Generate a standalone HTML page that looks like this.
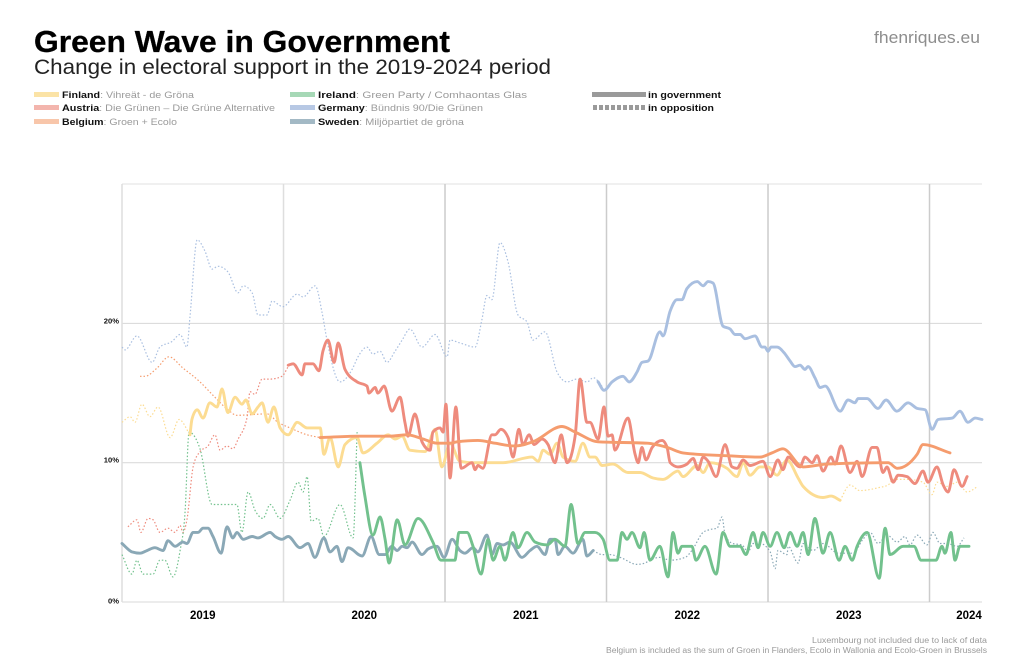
<!DOCTYPE html>
<html lang="en">
<head>
<meta charset="utf-8">
<title>Green Wave in Government</title>
<style>
html,body{margin:0;padding:0;background:#fff;width:1024px;height:664px;overflow:hidden}
svg{display:block;font-family:"Liberation Sans",sans-serif}
.n{font-weight:700;fill:#111}
.d{fill:#9a9a9a}
</style>
</head>
<body>
<svg id="chart" width="1024" height="664" viewBox="0 0 1024 664">
  <text x="34" y="52" font-size="31" font-weight="700" fill="#000" stroke="#000" stroke-width="0.3" textLength="416" lengthAdjust="spacingAndGlyphs">Green Wave in Government</text>
  <text x="34" y="74" font-size="21" fill="#222" textLength="517" lengthAdjust="spacingAndGlyphs">Change in electoral support in the 2019-2024 period</text>
  <text x="980" y="43" text-anchor="end" font-size="16.5" fill="#8d8d8d" textLength="106" lengthAdjust="spacingAndGlyphs">fhenriques.eu</text>

  <rect x="34" y="92" width="25" height="5" fill="#fbe3a6"/>
  <text x="62" y="98" font-size="9.5" textLength="132" lengthAdjust="spacingAndGlyphs"><tspan class="n">Finland</tspan><tspan class="d">: Vihreät - de Gröna</tspan></text>
  <rect x="34" y="105" width="25" height="5" fill="#f3b5ad"/>
  <text x="62" y="111" font-size="9.5" textLength="213" lengthAdjust="spacingAndGlyphs"><tspan class="n">Austria</tspan><tspan class="d">: Die Grünen – Die Grüne Alternative</tspan></text>
  <rect x="34" y="119" width="25" height="5" fill="#f8c6aa"/>
  <text x="62" y="125" font-size="9.5" textLength="115" lengthAdjust="spacingAndGlyphs"><tspan class="n">Belgium</tspan><tspan class="d">: Groen + Ecolo</tspan></text>

  <rect x="290" y="92" width="25" height="5" fill="#a6d8b6"/>
  <text x="318" y="98" font-size="9.5" textLength="209" lengthAdjust="spacingAndGlyphs"><tspan class="n">Ireland</tspan><tspan class="d">: Green Party / Comhaontas Glas</tspan></text>
  <rect x="290" y="105" width="25" height="5" fill="#b7c8e4"/>
  <text x="318" y="111" font-size="9.5" textLength="165" lengthAdjust="spacingAndGlyphs"><tspan class="n">Germany</tspan><tspan class="d">: Bündnis 90/Die Grünen</tspan></text>
  <rect x="290" y="119" width="25" height="5" fill="#a3b9c5"/>
  <text x="318" y="125" font-size="9.5" textLength="146" lengthAdjust="spacingAndGlyphs"><tspan class="n">Sweden</tspan><tspan class="d">: Miljöpartiet de gröna</tspan></text>

  <rect x="592" y="92" width="54" height="5" fill="#9a9a9a"/>
  <text x="648" y="98" font-size="9.5" font-weight="700" fill="#111" textLength="73" lengthAdjust="spacingAndGlyphs">in government</text>
  <line x1="593" y1="107.5" x2="646" y2="107.5" stroke="#9a9a9a" stroke-width="5" stroke-dasharray="4 2"/>
  <text x="648" y="111" font-size="9.5" font-weight="700" fill="#111" textLength="66" lengthAdjust="spacingAndGlyphs">in opposition</text>

  <g id="grid"></g>
  <g id="series"></g>
  <g id="axes"></g>

  <text x="987" y="643" text-anchor="end" font-size="8" fill="#9a9a9a" textLength="175" lengthAdjust="spacingAndGlyphs">Luxembourg not included due to lack of data</text>
  <text x="987" y="653" text-anchor="end" font-size="8" fill="#9a9a9a" textLength="381" lengthAdjust="spacingAndGlyphs">Belgium is included as the sum of Groen in Flanders, Ecolo in Wallonia and Ecolo-Groen in Brussels</text>
</svg>
<script>
// Time is in weeks since January 2019; values are electoral support in percent.
const yearLabels = ['2019','2020','2021','2022','2023','2024'];
const yearStartWeeks = [0,52,104,156,208,260];
const shareTicks = [0,10,20];
const shareTickLabels = ['0%','10%','20%'];

const finlandOppAWeeks = [0,2.6,4.2,6.4,9,11.6,15.5,18.4,21.9];
const finlandOppAShare = [12.9,13.3,12.9,14.2,13.3,14,11.8,13.1,12];
const finlandGovWeeks = [21.9,22.5,24.2,26.1,28.3,30.6,32.2,34.1,36.4,38.6,39.9,41.9,43.8,45.1,47,48.9,50.9,53.5,56.4,59.6,63.8,65,67,69.6,71.8,75.7,77.6,82.1,85.7,87.9,90.2,92.7,97.6,100.8,103,105.6,108.8,113,122.7,132,134,135.6,137.8,140.1,142,145.9,148.4,150.7,152.3,154.6,158.1,162.9,166.8,171,174.2,179,180.6,185.2,187.1,189.3,194.8,198,200,202.2,205.4,208,210.9,214.1,217.7,219.3,225.7,228.3,231.2];
const finlandGovShare = [12,13.1,13.8,13.2,14.3,14,15.3,13.6,14.7,14.2,14.5,13.5,14,14.3,12.9,14,12.5,12,12.9,12.5,12.5,10.6,11.8,9.7,11.3,11.8,10.7,11.4,12,11.7,11.9,10.9,10.8,12.4,9.7,11.4,10.1,10,10,10.4,10.1,10.9,10.6,11.4,10.4,10.1,11.4,10.4,10.4,9.8,9.9,9.3,9.3,8.9,8.8,9.4,9,9.8,9.3,10,9.6,9,10,9.1,9.7,9.7,9.1,10.2,8.9,8.3,7.5,7.6,7.3];
const finlandOppBWeeks = [231.2,234.4,237.6,243.4,246.7,248.3,252.8,257.9,260.8,262.4,265.7,268.9,272.1,275.6];
const finlandOppBShare = [7.3,8.4,8,8.2,8.4,8.8,8.8,8.6,7.7,8.6,8.3,8.6,7.9,8.3];

const austriaOppWeeks = [1.9,4.8,6.1,8.4,10,12.2,14.8,17.1,18.7,19.6,20.9,22.9,25.1,27.7,29.9,31.6,33.8,35.7,37.4,40.3,41.2,42.8,45.1,47.7,51.5,53.5];
const austriaOppShare = [5.4,5.9,5,6,5.9,5,5.3,5,5.5,5,5.9,9.7,10.8,11.2,12,10.9,11.2,11,11.7,13.3,15.1,14.9,16,16,16.2,16.9];
const austriaGovWeeks = [53.5,55.1,58,58.9,61.5,63.4,64.7,66.3,68.3,69.6,71.8,75.7,78.9,79.5,81.5,82.4,84.4,86.9,89.5,91.1,92.1,94.3,96.6,99.2,100.1,102.4,103.4,104.3,105.6,107.5,109.2,112.7,113.7,114.6,116.2,119.1,120.1,122,124.3,125.9,127.8,129.1,131.1,132.7,135.2,137.2,139.4,141.4,143.3,145.9,147.5,149.7,150.7,153.3,155.2,156.5,157.8,158.7,162.9,165.2,166.2,167.4,168.7,170.7,173.9,175.5,176.5,179,181.9,183.9,185.5,187.1,188.7,191.3,194.2,196.4,198,200,202.2,206.4,208.7,211.2,212.8,214.5,218.3,219.9,222.2,223.8,225.7,228.3,229.6,231.5,234.4,236.7,238.3,241.5,243.1,245,246.3,248.3,249.9,252.8,255.3,257.9,259.5,262.4,264.4,266,267.9,270.5,272.1];
const austriaGovShare = [17,17.1,16.3,17.1,17.1,16.6,18,18.8,17.2,18.6,16.7,15.8,15.5,15,15.4,15,15.5,13.7,14.7,12.9,11.9,13.5,11.5,10.9,12.2,12.5,12.2,14.2,8.9,14,9.6,10,9.5,9.8,9.6,12,12,12.4,11.8,10.4,12.4,11.3,12,11.3,11.7,11.3,10,12,10,11.9,16,12.9,12.9,11.7,14,11.9,12,10.9,13.2,10.6,10,11.1,10.2,11.1,11.6,11.1,10,9.7,9.9,10.3,9.5,10.4,10.1,9,11.3,9.7,9.6,10.2,9.8,10.1,9,10.2,9.5,10.4,9.7,10.4,10,10.5,9.4,10.4,9.9,11.2,9.3,10.1,9,11.1,11.1,9.3,9.7,8.6,9.1,9,8.5,9.4,8.6,9.7,8.4,7.9,9.5,8.3,9];

const belgiumOppWeeks = [5.8,7.4,11.3,15.1,19.6,25.1,29.9,34.1,37,46.7,50.2,54.1,59.6,63.8];
const belgiumOppShare = [16.2,16.2,16.8,17.6,16.8,15.8,14.7,13.8,13.4,13.5,12.9,12.5,12,11.8];
const belgiumGovWeeks = [63.8,75.7,86.3,91.8,96.9,101.4,105.6,107.9,114.6,120.1,126.5,132.3,141.7,145.9,153.3,169.1,175.5,180.6,194.8,205.4,209.3,212.8,219.3,227,246.7,249.6,256,257.9,266.6];
const belgiumGovShare = [11.8,11.9,11.9,12,11.7,11.4,11.4,11.5,11.6,11.4,11.2,11.5,12.6,12.2,11.5,11.4,11.1,10.7,10.5,10.4,10.7,11,9.7,9.9,10,9.6,10.6,11.3,10.7];

const irelandOppWeeks = [0,3.2,4.8,6.8,10,12.2,13.8,16.4,18.7,20.3,21.6,25.1,29,37,38.6,40.6,42.8,45.4,47.7,50.9,54.1,56.7,58.3,59.6,60.9,63.1,65,70.2,74.4,75.7];
const irelandOppShare = [3.4,2,3,2,2,3,3,1.8,3.7,6.4,12.2,11,7,7,5,7.9,6.6,6,7,6,7.3,8.6,7.9,9,5.8,6,4.7,7,4.6,12.2];
const irelandGovWeeks = [76.6,78.2,80.8,83.1,84.7,86,88.6,91.1,95.3,100.1,102.7,107.2,108.5,111.1,113,115.6,117.9,119.5,121.7,123.3,125.9,127.5,130.4,133,136.9,139.4,142.6,144.6,146.8,149.1,152.3,154.9,157.1,159.4,161,162.6,164.2,166.8,168.1,170,173.2,175.8,177.4,179,180.3,183.5,184.8,187.7,191.3,193.5,195.8,199,200.9,203.2,204.8,206.4,208.7,210.9,213.2,215.1,217.4,219.3,220.9,223.1,225.7,228,230.9,232.8,235.1,236.7,239.9,243.8,245.7,247.3,251.5,255,257.3,262.1,264,265,266.9,268.2,269.8,272.7];
const irelandGovShare = [10,7.6,4.8,6.1,4.5,2.8,5.9,4.1,6,4.3,3,3,5,5,4,2,4.5,3,4,3,5,3.9,5,4.3,4.1,4.5,4,7,4.2,5,5,4.5,3,3,5,4.5,5,3.9,5,3,4,1.8,5,3.5,4,4,3,4,2,5,4,4,3.4,5,3.9,5,4,5,3.9,5,4,5,3.4,6,3.5,5,3,4,3,4,5,1.7,5.3,3.4,4,4,3,3,4,3.5,5,3,4,4];

const germanyOppWeeks = [0,1,4.8,9.7,12.2,16.1,18.7,20.9,21.9,24.2,26.7,29,30.9,34.1,37.4,39,41.9,43.8,46.7,48.3,51.8,56.4,58.3,62.2,64.4,66,70.2,74.1,76,78.9,80.8,83.1,85.3,87.9,90.2,92.7,96.6,100.8,104.7,105.6,108.8,113.7,115.9,117.5,119.1,121.7,124.3,127.5,130.4,132.3,136.2,140.1,143.3,146.5,149.8,151.7,154.9];
const germanyOppShare = [18.3,18.1,19.1,17.2,18.3,18.7,19.2,18.3,20.5,26,25.2,23.9,24.1,23.7,22.2,22.7,22.2,20.6,20.6,21.6,21.2,22.1,21.9,22.7,20.8,18.8,15.8,16.7,17.6,18.3,17.8,18,17.2,18,18.8,19.6,18.3,19.2,17.6,18.8,18.6,18.3,20.3,22,21.7,25.8,24.4,20.6,20.1,18.8,19.4,16.5,15.8,16,15.8,16.1,15.4];
const germanyGovWeeks = [153.3,155.2,157.8,161.3,163.3,165.8,167.4,169.4,173.2,174.2,176.5,178.7,180.3,181.9,185.2,187.1,188.7,190.3,193.5,195.8,197.4,199,200.6,203.8,206.1,207,208,209,210.9,213.5,215.1,216.7,218.3,219.9,220.9,223.1,224.8,226.4,231.2,233.8,236,237,239.9,243.4,246,249.5,253.1,256,258.6,260.8,262.8,267.3,269.8,272.4,274.7,276.9];
const germanyGovShare = [15.8,15.2,15.8,16.2,15.8,16.5,17.2,17.3,19.4,19.1,20.9,21.7,21.7,22.5,23,22.7,23,22.9,19.8,19.6,19.2,19.2,18.9,19.1,18.3,18.3,18,18.3,18.3,17.8,17.3,16.9,17,16.7,16.9,16.1,15.4,15.5,13.7,14.5,14.3,14.6,14.6,13.9,14.5,13.7,14.3,13.9,13.8,12.4,13.1,13.2,13.7,12.9,13.2,13.1];

const swedenGovWeeks = [0,3.2,5.8,8.1,10.6,13.2,14.8,17.1,19.6,20.9,22.9,24.5,26.1,27.7,29.3,31.9,33.8,35.7,37,39,41.9,43.8,47.7,49.3,51.5,53.5,57.3,59.9,62.1,65,67,69.2,70.8,72.8,77.3,80.2,82.8,84.7,86.9,88.6,90.2,91.8,93.4,96.6,98.5,101.4,103.7,106.3,108.8,110.4,113,114.6,117.5,119.1,120.8,122.7,124.9,128.8,131.4,133.6,136.2,137.8,139.4,140.4,142.6,145.2,148.4,149.7,151.7];
const swedenGovShare = [4.2,3.6,3.5,3.7,3.9,3.7,4.4,4,4.3,4.2,5,5,5.3,5.3,4.7,3.5,5.4,4.6,5,4.5,4.7,4.6,5,4.7,4.5,4.7,3.9,4.2,3.2,4.6,3.6,4,2.9,3.9,3.3,4.7,3.4,3.4,4,3.7,4,3.9,4.3,3.4,3.8,4,3.2,4.5,3.7,3.5,3.9,3.6,4.8,3.4,4.2,4.1,4.3,3.2,3.7,4,3.4,4.5,4.5,3.4,4,3.5,4.5,3.3,3.7];
const swedenOppWeeks = [151.7,154.6,157.1,160.4,165.8,168.4,170,173.2,176.5,181.3,183.5,187.1,189.3,191.6,193.2,194.2,196.7,199.6,201.6,203.2,205.4,208.7,210.3,211.2,214.1,214.5,217.7,219.3,222.5,225.7,230.6,235.4,238.6,240.9,243.4,246.3,249.6,252.1,253.7,256,259.2,261.1,263.4,265.7,268.9,271.1];
const swedenOppShare = [3.7,3.4,3.4,3.2,2.7,2.8,3,3.2,3,3.2,3.7,5,5.2,5.3,6.1,4.8,4.2,4.1,3.6,4.2,4.2,3.6,2.4,3.7,3.4,4,2.8,4.2,3.7,4.2,3.5,3.5,4.5,5,4.2,4.8,4.3,4.7,4.1,4.8,4.1,5,4.2,4.2,4,4.6];

const NS = 'http://www.w3.org/2000/svg';
const plot = {left:122, right:982, top:184, bottom:602};
const weekSpan = 276.9;
const sharePerPx = 13.93;
function xScale(w){ return plot.left + w * (plot.right - plot.left) / weekSpan; }
function yScale(v){ return plot.bottom - v * sharePerPx; }

function monotonePath(weeks, share){
  const xs = weeks.map(xScale), ys = share.map(yScale), n = xs.length;
  const sl = [], m = new Array(n);
  for (let i = 0; i < n - 1; i++) sl.push((ys[i+1]-ys[i]) / ((xs[i+1]-xs[i]) || 1));
  m[0] = sl[0]; m[n-1] = sl[n-2];
  for (let i = 1; i < n - 1; i++){
    if (sl[i-1]*sl[i] <= 0) { m[i] = 0; continue; }
    const h0 = xs[i]-xs[i-1], h1 = xs[i+1]-xs[i];
    const p = (sl[i-1]*h1 + sl[i]*h0) / (h0+h1);
    m[i] = Math.sign(sl[i]) * 2 * Math.min(Math.abs(sl[i-1]), Math.abs(sl[i]), 0.5*Math.abs(p));
  }
  let d = 'M' + xs[0].toFixed(1) + ' ' + ys[0].toFixed(1);
  for (let i = 0; i < n - 1; i++){
    const h = (xs[i+1]-xs[i]) / 3;
    d += 'C' + (xs[i]+h).toFixed(1) + ' ' + (ys[i]+m[i]*h).toFixed(1) + ' ' +
         (xs[i+1]-h).toFixed(1) + ' ' + (ys[i+1]-m[i+1]*h).toFixed(1) + ' ' +
         xs[i+1].toFixed(1) + ' ' + ys[i+1].toFixed(1);
  }
  return d;
}

const gridG = document.getElementById('grid');
const axesG = document.getElementById('axes');
const seriesG = document.getElementById('series');

function gridLine(x1, y1, x2, y2, color, width){
  const l = document.createElementNS(NS, 'line');
  l.setAttribute('x1', x1); l.setAttribute('y1', y1);
  l.setAttribute('x2', x2); l.setAttribute('y2', y2);
  l.setAttribute('stroke', color); l.setAttribute('stroke-width', width);
  gridG.appendChild(l);
  return l;
}

const topLine = gridLine(plot.left, plot.top, plot.right, plot.top, '#e2e2e2', 1);



shareTicks.forEach(function(v, i){
  const l = gridLine(plot.left, yScale(v), plot.right, yScale(v), v === 0 ? '#e6e6e6' : '#dcdcdc', v === 0 ? 1.6 : 1.1);
  
  
  const t = document.createElementNS(NS, 'text');
  t.setAttribute('x', 119);
  t.setAttribute('y', yScale(v) - (v === 0 ? -1.5 : 0));
  t.setAttribute('text-anchor', 'end');
  t.setAttribute('font-size', '7.6');
  t.setAttribute('font-weight', '700');
  t.setAttribute('fill', '#111');
  
  
  t.textContent = shareTickLabels[i];
  axesG.appendChild(t);
});

yearStartWeeks.forEach(function(w, i){
  const l = gridLine(xScale(w), plot.top, xScale(w), plot.bottom, i < 2 ? '#dedede' : '#cccccc', 1.5);
  
  
  const end = i < yearStartWeeks.length - 1 ? yearStartWeeks[i+1] : weekSpan;
  const mid = i < yearStartWeeks.length - 1 ? xScale((w + end) / 2) : plot.right - 13;
  const t = document.createElementNS(NS, 'text');
  t.setAttribute('x', mid);
  t.setAttribute('y', 619);
  t.setAttribute('text-anchor', 'middle');
  t.setAttribute('font-size', '11.5');
  t.setAttribute('font-weight', '700');
  t.setAttribute('fill', '#000');
  
  
  t.textContent = yearLabels[i];
  axesG.appendChild(t);
});

const finlandColor = '#fcdc92', austriaColor = '#ee8b7d', belgiumColor = '#f59c6e',
      irelandColor = '#72c18d', germanyColor = '#a9bfe0', swedenColor = '#8aa8b6';

const lines = [
  {id:'germany-opposition-line', w:germanyOppWeeks, v:germanyOppShare, c:germanyColor, gov:false},
  {id:'finland-opposition-line', w:finlandOppAWeeks, v:finlandOppAShare, c:finlandColor, gov:false},
  {id:'finland-opposition-line-late', w:finlandOppBWeeks, v:finlandOppBShare, c:finlandColor, gov:false},
  {id:'austria-opposition-line', w:austriaOppWeeks, v:austriaOppShare, c:austriaColor, gov:false},
  {id:'belgium-opposition-line', w:belgiumOppWeeks, v:belgiumOppShare, c:belgiumColor, gov:false},
  {id:'ireland-opposition-line', w:irelandOppWeeks, v:irelandOppShare, c:irelandColor, gov:false},
  {id:'sweden-opposition-line', w:swedenOppWeeks, v:swedenOppShare, c:swedenColor, gov:false},
  {id:'sweden-government-line', w:swedenGovWeeks, v:swedenGovShare, c:swedenColor, gov:true},
  {id:'germany-government-line', w:germanyGovWeeks, v:germanyGovShare, c:germanyColor, gov:true},
  {id:'finland-government-line', w:finlandGovWeeks, v:finlandGovShare, c:finlandColor, gov:true},
  {id:'ireland-government-line', w:irelandGovWeeks, v:irelandGovShare, c:irelandColor, gov:true},
  {id:'austria-government-line', w:austriaGovWeeks, v:austriaGovShare, c:austriaColor, gov:true},
  {id:'belgium-government-line', w:belgiumGovWeeks, v:belgiumGovShare, c:belgiumColor, gov:true}
];

lines.forEach(function(s){
  const p = document.createElementNS(NS, 'path');
  p.setAttribute('d', monotonePath(s.w, s.v));
  p.setAttribute('fill', 'none');
  p.setAttribute('stroke', s.c);
  p.setAttribute('stroke-linejoin', 'round');
  p.setAttribute('stroke-linecap', s.gov ? 'round' : 'butt');
  p.setAttribute('stroke-width', s.gov ? 2.9 : 1.2);
  if (!s.gov) p.setAttribute('stroke-dasharray', '1.5 2');
  
  
  seriesG.appendChild(p);
});
</script>
</body>
</html>
